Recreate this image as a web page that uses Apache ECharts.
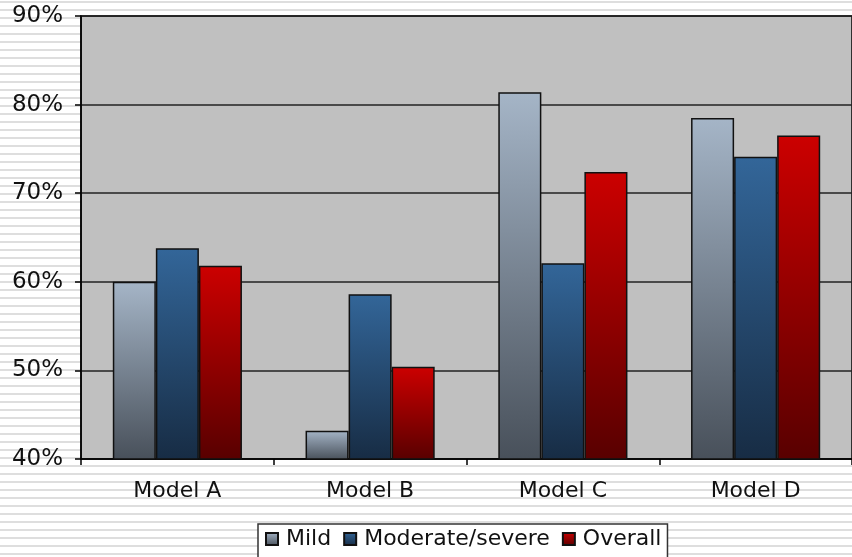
<!DOCTYPE html>
<html>
<head>
<meta charset="utf-8">
<script src="https://cdn.jsdelivr.net/npm/echarts@6/dist/echarts.min.js"></script>
<style>
html,body{margin:0;padding:0;}
body{
    width:852px;
    height:557px;
    overflow:hidden;
    background:repeating-linear-gradient(to bottom,#ffffff 0px,#ffffff 1px,#dedede 1px,#dedede 3px,#ffffff 3px,#ffffff 8px);
}
#chart{width:852px;height:557px;}
</style>
</head>
<body>
<div id="chart"></div>
<script>
// categories and values
const categories=["Model A","Model B","Model C","Model D"];
const mild=[60.0,43.2,81.4,78.5];
const moderate=[63.8,58.6,62.1,74.1];
const overall=[61.8,50.4,72.4,76.5];

function grad(top,bottom){
    return new echarts.graphic.LinearGradient(0,0,0,1,[
        {offset:0,color:top},
        {offset:1,color:bottom}
    ]);
}

const chart=echarts.init(document.getElementById("chart"),null,{renderer:"canvas"});

const fontFamily="DejaVu Sans, Verdana, sans-serif";

function bar(name,data,top,bottom){
    return {
        name:name,
        type:"bar",
        data:data,
        barGap:"0%",
        barCategoryGap:"33%",
        itemStyle:{
            color:grad(top,bottom),
            borderColor:"#111",
            borderWidth:1.5
        }
    };
}

chart.setOption({
    animation:false,
    textStyle:{fontFamily:fontFamily},
    grid:{
        show:true,
        left:81,
        top:16,
        width:780,
        height:443,
        backgroundColor:"#c0c0c0",
        borderColor:"#000",
        borderWidth:1.5
    },
    legend:{
        left:258,
        top:524,
        itemWidth:12,
        itemHeight:12,
        itemGap:12,
        icon:"rect",
        padding:[4,6,8,7],
        backgroundColor:"#ffffff",
        borderColor:"#333",
        borderWidth:1.5,
        borderRadius:0,
        textStyle:{fontSize:22,color:"#111",fontFamily:fontFamily,padding:[0,0,0,3]},
        data:["Mild","Moderate/severe","Overall"]
    },
    xAxis:{
        type:"category",
        data:categories,
        axisLine:{lineStyle:{color:"#000",width:1.5}},
        axisTick:{show:true,length:6,lineStyle:{color:"#000",width:1.5}},
        axisLabel:{fontSize:22,color:"#111",margin:21,fontFamily:fontFamily}
    },
    yAxis:{
        type:"value",
        min:40,
        max:90,
        interval:10,
        axisLine:{show:true,lineStyle:{color:"#000",width:1.5}},
        axisTick:{show:true,length:6,lineStyle:{color:"#000",width:1.5}},
        axisLabel:{fontSize:23,color:"#111",margin:18,formatter:"{value}%",fontFamily:fontFamily},
        splitLine:{show:true,lineStyle:{color:"#222",width:1.5}}
    },
    series:[
        bar("Mild",mild,"#a5b5c7","#48505a"),
        bar("Moderate/severe",moderate,"#336699","#172c44"),
        bar("Overall",overall,"#cc0000","#580000")
    ]
});
</script>
</body>
</html>
